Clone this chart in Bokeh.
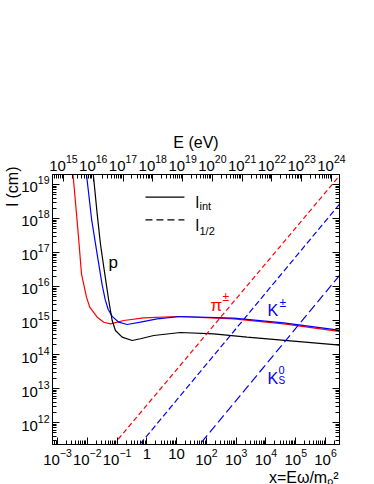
from bokeh.plotting import figure
from bokeh.models import (LogAxis, FixedTicker, Range1d, LogScale, Label,
                          CustomJSTickFormatter, Title)
from bokeh.embed import file_html
from bokeh.resources import INLINE

# ---- data ----
# l_int curves (cm) versus x = E*omega/m_p^2
x_pi = [3.24e-3, 4.35e-3, 5.19e-3, 6.38e-3, 9.40e-3, 1.21e-2, 2.15e-2, 3.58e-2,
        6.01e-2, 0.168, 0.787, 10.4, 824, 3.93e4, 2.43e6, 4.0e6]
l_pi = [2.51e19, 1.37e18, 2.25e17, 2.36e16, 4.85e15, 2.46e15, 1.25e15, 8.9e14,
        8.0e14, 1.0e15, 1.2e15, 1.31e15, 1.12e15, 8.0e14, 4.84e14, 4.6e14]

x_k = [9.12e-3, 1.41e-2, 2.24e-2, 3.16e-2, 3.98e-2, 5.01e-2, 6.85e-2, 0.114,
       0.218, 0.61, 2.22, 13.4, 824, 3.93e4, 2.43e6, 3.98e6]
l_k = [2.51e19, 8.91e17, 7.08e16, 1.12e16, 4.17e15, 2.14e15, 1.32e15, 8.91e14,
       7.62e14, 8.91e14, 1.12e15, 1.31e15, 1.17e15, 8.55e14, 5.33e14, 5.0e14]

x_p = [1.55e-2, 2.15e-2, 2.77e-2, 3.58e-2, 5.26e-2, 6.85e-2, 8.83e-2, 0.148,
       0.321, 0.61, 1.71, 13.4, 176, 2.32e3, 2.43e6, 3.98e6]
l_p = [2.51e19, 1.37e18, 1.78e17, 3.7e16, 3.87e15, 1.0e15, 5.08e14, 3.23e14,
       2.58e14, 2.9e14, 3.62e14, 4.44e14, 4.06e14, 3.23e14, 1.93e14, 1.78e14]

# l_1/2 lines
x_half_pi = [1e-2, 1e7]
l_half_pi = [2.67e10, 6.46e19]
x_half_k = [0.1, 1e7]
l_half_k = [3.55e10, 9.55e18]
x_half_ks = [10, 1e7]
l_half_ks = [3.40e10, 7.69e16]

x_ticks = [float(f"1e{k}") for k in range(-3, 7)]
e_ticks = [float(f"1e{k}") for k in range(15, 25)]
y_ticks = [float(f"1e{k}") for k in range(12, 20)]

# ---- layout constants ----
XMIN, XMAX = 10 ** -3.168, 10 ** 6.47
YMIN, YMAX = 10 ** 11.353, 10 ** 19.294
E_FACTOR = 10 ** 17.8
FONT = "Liberation Sans"
RED, BLUE = "#ff0000", "#0000ff"


def minors(lo, hi):
    return [m * float(f"1e{k}") for k in range(lo, hi) for m in range(2, 10)]


p = figure(width=374, height=484, x_axis_type="log", y_axis_type="log",
           x_range=Range1d(XMIN, XMAX), y_range=Range1d(YMIN, YMAX),
           output_backend="svg", toolbar_location=None,
           min_border_left=52, min_border_right=35,
           min_border_top=174, min_border_bottom=40)
p.xgrid.visible = False
p.ygrid.visible = False
p.outline_line_color = "black"
p.background_fill_color = "white"
p.border_fill_color = "white"

bottom = p.below[0]
left = p.left[0]
bottom.ticker = FixedTicker(ticks=x_ticks, minor_ticks=minors(-4, 7))
bottom.major_label_overrides = {1.0: "1", 10.0: "10"}
left.ticker = FixedTicker(ticks=y_ticks, minor_ticks=minors(11, 20))

p.extra_x_ranges = {"E": Range1d(XMIN * E_FACTOR, XMAX * E_FACTOR)}
p.extra_x_scales = {"E": LogScale()}
top = LogAxis(x_range_name="E",
              ticker=FixedTicker(ticks=e_ticks, minor_ticks=minors(14, 25)))
p.add_layout(top, "above")

right = LogAxis(ticker=FixedTicker(ticks=y_ticks, minor_ticks=minors(11, 20)),
                formatter=CustomJSTickFormatter(code="return ''"))
p.add_layout(right, "right")

for ax in [bottom, left, top, right]:
    ax.major_tick_in = 7
    ax.major_tick_out = 0
    ax.minor_tick_in = 4
    ax.minor_tick_out = 0
    ax.axis_line_color = "black"
    ax.major_tick_line_color = "black"
    ax.minor_tick_line_color = "black"
    ax.major_label_standoff = 4
    ax.major_label_text_font = FONT
    ax.major_label_text_font_size = "15px"
    ax.major_label_text_color = "black"
left.major_label_standoff = 3

# axis titles (placed in the side panels, outside the frame)
p.add_layout(Title(text="E (eV)", align="center", standoff=2, text_font=FONT,
                   text_font_size="16px", text_font_style="normal",
                   text_color="black"), "above")
p.add_layout(Title(text="l (cm)", align="right", offset=-8, standoff=-4,
                   text_font=FONT, text_font_size="16px",
                   text_font_style="normal", text_color="black"), "left")
p.add_layout(Title(text="x=Eω/mₚ²", align="right", offset=1, standoff=-2,
                   text_font=FONT, text_font_size="16px",
                   text_font_style="normal", text_color="black"), "below")

# ---- curves ----
p.line(x_pi, l_pi, line_color=RED, line_width=1.2)
p.line(x_k, l_k, line_color=BLUE, line_width=1.2)
p.line(x_p, l_p, line_color="black", line_width=1.2)
p.line(x_half_pi, l_half_pi, line_color=RED, line_width=1.2, line_dash="5 3")
p.line(x_half_k, l_half_k, line_color=BLUE, line_width=1.2, line_dash="6 3")
p.line(x_half_ks, l_half_ks, line_color=BLUE, line_width=1.2, line_dash="9 4")

# legend samples
p.line([0.898, 18.3], [4.23e18, 4.23e18], line_color="black", line_width=1.2)
p.line([0.898, 18.3], [9.16e17, 9.16e17], line_color="black", line_width=1.2,
       line_dash="7 4")


def lab(x, y, text, size, color="black", align="left", baseline="alphabetic"):
    p.add_layout(Label(x=x, y=y, x_units="screen", y_units="screen", text=text,
                       text_font=FONT, text_font_size=size, text_color=color,
                       text_align=align, text_baseline=baseline))


# legend text
lab(143, 242, "l", "16px")
lab(147, 239, "int", "11px")
lab(143, 219, "l", "16px")
lab(147, 214, "1/2", "11px")

# curve labels
lab(56, 182, "p", "17px")
lab(158, 139, "π", "17px", RED)
lab(170, 148, "±", "12px", RED)
lab(215, 134, "K", "16px", BLUE)
lab(227, 142, "±", "12px", BLUE)
lab(215, 66, "K", "16px", BLUE)
lab(226, 75, "0", "11px", BLUE)
lab(226, 64, "S", "10px", BLUE)

open("out.html", "w").write(file_html(p, INLINE))
